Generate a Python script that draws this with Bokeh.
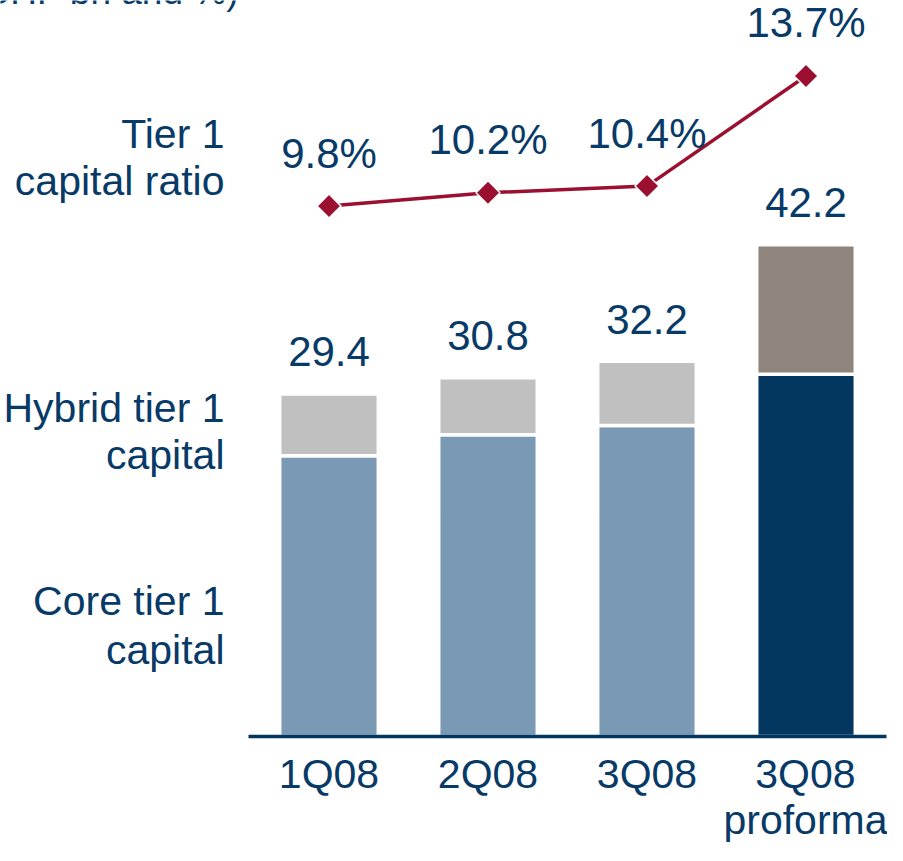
import math
from bokeh.plotting import figure
from bokeh.models import Range1d, FixedTicker, ColumnDataSource
from bokeh.core.properties import value
from bokeh.embed import file_html
from bokeh.resources import INLINE

# ---------------- data ----------------
quarters = ["1Q08", "2Q08", "3Q08", "3Q08\nproforma"]
core_tier1 = [24.1, 25.9, 26.7, 31.1]      # CHF bn
hybrid_tier1 = [5.3, 4.9, 5.5, 11.1]       # CHF bn
total_tier1 = [29.4, 30.8, 32.2, 42.2]     # CHF bn (labels)
tier1_ratio = [9.8, 10.2, 10.4, 13.7]      # %

# ---------------- styles / layout ----------------
FONT = "Liberation Sans"
NAVY_TEXT = "#083a68"
CORE_LIGHT = "#7a99b5"
CORE_DARK = "#03375f"
HYB_LIGHT = "#c0c0c0"
HYB_DARK = "#8e857c"
RED = "#9b1030"
FS = "41px"
FS_NUM = "42px"
BASE_FIX = 16          # svg alphabetic-baseline correction (px)

W, H = 887, 845
DX, DY = 12, 5         # reference px -> figure px offsets
FRAME_H = 746 - DY     # frame height in px (bottom = axis line)
X0_PX = 340.5 - DX     # figure px of first category centre
PX_X = 159.0           # px per category step
PX_BN = 11.73          # px per CHF bn
PX_R = 131 / 3.9       # px per % point
R_ANCHOR_VAL = 9.8
R_ANCHOR_PX = FRAME_H - (212 - DY)


def xd(img_x):
    return (img_x - DX - X0_PX) / PX_X


def yd(img_y):
    return (FRAME_H - (img_y - DY)) / PX_BN


idx = list(range(len(quarters)))
tops = [c + h for c, h in zip(core_tier1, hybrid_tier1)]
core_cols = [CORE_LIGHT] * (len(quarters) - 1) + [CORE_DARK]
hyb_cols = [HYB_LIGHT] * (len(quarters) - 1) + [HYB_DARK]

src = ColumnDataSource(dict(
    x=idx, core=core_tier1, top=tops, core_col=core_cols, hyb_col=hyb_cols,
    lab=[f"{v:.1f}" for v in total_tier1],
    ratio=tier1_ratio, rlab=[f"{v:.1f}%" for v in tier1_ratio],
))

r_start = R_ANCHOR_VAL - R_ANCHOR_PX / PX_R
r_end = r_start + FRAME_H / PX_R

p = figure(width=W, height=H, output_backend="svg", toolbar_location=None,
           x_range=Range1d(-X0_PX / PX_X, (W - X0_PX) / PX_X),
           y_range=Range1d(0, FRAME_H / PX_BN),
           min_border_left=0, min_border_right=0, min_border_top=0,
           min_border_bottom=H - FRAME_H,
           y_axis_location=None, outline_line_color=None,
           background_fill_color="white", border_fill_color="white")
p.extra_y_ranges = {"ratio": Range1d(r_start, r_end)}
p.grid.visible = False

# x axis (categories)
ax = p.xaxis[0]
ax.ticker = FixedTicker(ticks=idx)
ax.major_label_overrides = {i: q for i, q in zip(idx, quarters)}
ax.bounds = (xd(260), xd(898))
ax.axis_line_color = CORE_DARK
ax.axis_line_width = 3.5
ax.major_tick_line_color = None
ax.minor_tick_line_color = None
ax.major_tick_in = 0
ax.major_tick_out = 0
ax.minor_tick_in = 0
ax.minor_tick_out = 0
ax.major_label_standoff = 14
ax.major_label_text_font = FONT
ax.major_label_text_font_size = FS
ax.major_label_text_color = NAVY_TEXT
ax.major_label_text_line_height = 1.0

# stacked bars
BW = 0.62
p.vbar(x="x", bottom=0, top="core", width=BW, source=src,
       fill_color="core_col", line_color="white", line_width=3.5)
p.vbar(x="x", bottom="core", top="top", width=BW, source=src,
       fill_color="hyb_col", line_color="white", line_width=3.5)

# total labels
p.text(x="x", y="top", text="lab", source=src, text_font=value(FONT),
       text_font_size=FS_NUM, text_color=NAVY_TEXT, text_align="center",
       text_baseline="alphabetic", y_offset=-26 - BASE_FIX)

# tier 1 ratio line
p.line(x="x", y="ratio", source=src, y_range_name="ratio",
       line_color=RED, line_width=3.5)
p.scatter(x="x", y="ratio", source=src, y_range_name="ratio",
          marker="square", angle=math.pi / 4, size=17,
          fill_color=RED, line_color="white", line_width=1.5)
p.text(x="x", y="ratio", text="rlab", source=src, y_range_name="ratio",
       text_font=value(FONT), text_font_size=FS_NUM, text_color=NAVY_TEXT,
       text_align="center", text_baseline="alphabetic",
       y_offset=-37 - BASE_FIX)

# left-side series labels
side_text = ["Tier 1", "capital ratio", "Hybrid tier 1", "capital",
             "Core tier 1", "capital"]
side_base = [155, 203, 431, 479, 626, 675]
p.text(x=[xd(236)] * len(side_text),
       y=[yd(b - BASE_FIX) for b in side_base],
       text=side_text, text_font=value(FONT), text_font_size=FS,
       text_color=NAVY_TEXT, text_align="right", text_baseline="alphabetic")

# title at top-left, cut by the top edge as in the reference
p.text(x=[xd(250)], y=[FRAME_H / PX_BN - 0.01], text=["(CHF bn and %)"],
       text_font=value(FONT), text_font_size="37px", text_color=NAVY_TEXT,
       text_align="right", text_baseline="alphabetic",
       y_offset=(12 - DY) - BASE_FIX)

open("out.html", "w").write(file_html(p, INLINE))
